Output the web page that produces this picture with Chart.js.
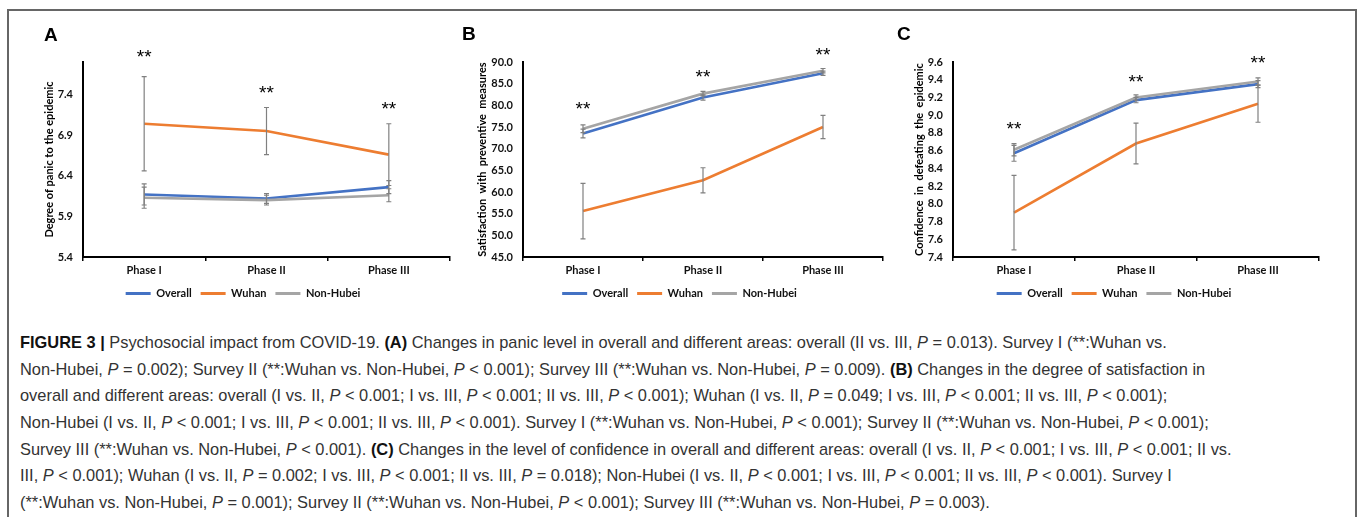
<!DOCTYPE html>
<html>
<head>
<meta charset="utf-8">
<script src="https://cdn.jsdelivr.net/npm/chart.js@4"></script>
<style>
  body { margin: 0; background: #fff; width: 1357px; height: 517px; overflow: hidden; position: relative; }
  .frame { position: absolute; left: 7px; top: 9px; width: 1346px; height: 600px; border: 2px solid #666; }
  canvas { position: absolute; top: 0; }
  .panel { position: absolute; font-family: "Liberation Sans", Arial, sans-serif; font-weight: bold; font-size: 19px; line-height: 19px; color: #000; }
  .caption { position: absolute; left: 20px; top: 329px; font-family: "Liberation Sans Narrow", "Liberation Sans", sans-serif; font-size: 16.4px; line-height: 26.67px; color: #333; }
  .caption div { white-space: nowrap; }
  .caption b { color: #111; }
</style>
</head>
<body>
<div class="frame"></div>
<canvas id="chartA" width="440" height="310" style="left:20px"></canvas>
<canvas id="chartB" width="433" height="310" style="left:460px"></canvas>
<canvas id="chartC" width="436" height="310" style="left:893px"></canvas>
<div class="panel" style="left:44px;top:25px">A</div>
<div class="panel" style="left:462px;top:24px">B</div>
<div class="panel" style="left:897px;top:24px">C</div>

<div class="caption">
  <div><b>FIGURE 3 |</b> Psychosocial impact from COVID-19. <b>(A)</b> Changes in panic level in overall and different areas: overall (II vs. III, <i>P</i> = 0.013). Survey I (**:Wuhan vs.</div>
  <div>Non-Hubei, <i>P</i> = 0.002); Survey II (**:Wuhan vs. Non-Hubei, <i>P</i> &lt; 0.001); Survey III (**:Wuhan vs. Non-Hubei, <i>P</i> = 0.009). <b>(B)</b> Changes in the degree of satisfaction in</div>
  <div>overall and different areas: overall (I vs. II, <i>P</i> &lt; 0.001; I vs. III, <i>P</i> &lt; 0.001; II vs. III, <i>P</i> &lt; 0.001); Wuhan (I vs. II, <i>P</i> = 0.049; I vs. III, <i>P</i> &lt; 0.001; II vs. III, <i>P</i> &lt; 0.001);</div>
  <div>Non-Hubei (I vs. II, <i>P</i> &lt; 0.001; I vs. III, <i>P</i> &lt; 0.001; II vs. III, <i>P</i> &lt; 0.001). Survey I (**:Wuhan vs. Non-Hubei, <i>P</i> &lt; 0.001); Survey II (**:Wuhan vs. Non-Hubei, <i>P</i> &lt; 0.001);</div>
  <div>Survey III (**:Wuhan vs. Non-Hubei, <i>P</i> &lt; 0.001). <b>(C)</b> Changes in the level of confidence in overall and different areas: overall (I vs. II, <i>P</i> &lt; 0.001; I vs. III, <i>P</i> &lt; 0.001; II vs.</div>
  <div>III, <i>P</i> &lt; 0.001); Wuhan (I vs. II, <i>P</i> = 0.002; I vs. III, <i>P</i> &lt; 0.001; II vs. III, <i>P</i> = 0.018); Non-Hubei (I vs. II, <i>P</i> &lt; 0.001; I vs. III, <i>P</i> &lt; 0.001; II vs. III, <i>P</i> &lt; 0.001). Survey I</div>
  <div>(**:Wuhan vs. Non-Hubei, <i>P</i> = 0.001); Survey II (**:Wuhan vs. Non-Hubei, <i>P</i> &lt; 0.001); Survey III (**:Wuhan vs. Non-Hubei, <i>P</i> = 0.003).</div>
</div>

<script>
  const phases = ['Phase I', 'Phase II', 'Phase III'];
  const seriesNames = ['Overall', 'Wuhan', 'Non-Hubei'];
  const seriesColors = ['#4472C4', '#ED7D31', '#A5A5A5'];

  // A: panic
  const panicOverall = [6.17, 6.12, 6.26];
  const panicWuhan = [7.04, 6.95, 6.66];
  const panicNonHubei = [6.13, 6.10, 6.16];
  const panicOverallErr = [0.13, 0.06, 0.08];
  const panicWuhanErr = [0.58, 0.29, 0.38];
  const panicNonHubeiErr = [0.13, 0.06, 0.08];
  const panicTicks = [5.4, 5.9, 6.4, 6.9, 7.4];
  const panicStars = [7.90, 7.46, 7.26];

  // B: satisfaction
  const satOverall = [73.5, 81.8, 87.4];
  const satWuhan = [55.6, 62.7, 75.0];
  const satNonHubei = [74.6, 82.7, 88.0];
  const satOverallErr = [1.0, 0.6, 0.5];
  const satWuhanErr = [6.4, 2.9, 2.7];
  const satNonHubeiErr = [0.9, 0.5, 0.5];
  const satTicks = [45, 50, 55, 60, 65, 70, 75, 80, 85, 90];
  const satStars = [79.8, 87.2, 92.4];

  // C: confidence
  const confOverall = [8.57, 9.17, 9.35];
  const confWuhan = [7.90, 8.68, 9.13];
  const confNonHubei = [8.61, 9.20, 9.38];
  const confOverallErr = [0.09, 0.03, 0.04];
  const confWuhanErr = [0.42, 0.23, 0.21];
  const confNonHubeiErr = [0.07, 0.03, 0.04];
  const confTicks = [7.4, 7.6, 7.8, 8.0, 8.2, 8.4, 8.6, 8.8, 9.0, 9.2, 9.4, 9.6];
  const confStars = [8.88, 9.41, 9.62];

  Chart.defaults.font.family = 'Lato, "Open Sans", sans-serif';
  Chart.defaults.font.weight = 'bold';
  Chart.defaults.font.size = 11;
  Chart.defaults.color = '#111';

  // vertical error bars with caps, taken from dataset.errors
  const errorBars = {
    id: 'errorBars',
    afterDatasetsDraw(chart) {
      const ctx = chart.ctx;
      const y = chart.scales.y;
      ctx.save();
      ctx.strokeStyle = '#808080';
      ctx.lineWidth = 1.2;
      chart.data.datasets.forEach((ds, i) => {
        const meta = chart.getDatasetMeta(i);
        meta.data.forEach((pt, j) => {
          const e = ds.errors[j];
          const top = y.getPixelForValue(ds.data[j] + e);
          const bot = y.getPixelForValue(ds.data[j] - e);
          ctx.beginPath();
          ctx.moveTo(pt.x, top); ctx.lineTo(pt.x, bot);
          ctx.moveTo(pt.x - 2.5, top); ctx.lineTo(pt.x + 2.5, top);
          ctx.moveTo(pt.x - 2.5, bot); ctx.lineTo(pt.x + 2.5, bot);
          ctx.stroke();
        });
      });
      ctx.restore();
    }
  };

  // "**" significance marks above each phase
  const stars = {
    id: 'stars',
    afterDraw(chart, args, opts) {
      const ctx = chart.ctx;
      ctx.save();
      ctx.font = '19px "Liberation Sans", Arial, sans-serif';
      ctx.fillStyle = '#000';
      ctx.textAlign = 'center';
      ctx.textBaseline = 'middle';
      opts.values.forEach((v, i) => {
        const x = chart.scales.x.getPixelForValue(i);
        const yy = chart.scales.y.getPixelForValue(v);
        ctx.fillText('**', x, yy + 4);
      });
      ctx.restore();
    }
  };

  function makePanel(id, cfg) {
    const series = [cfg.overall, cfg.wuhan, cfg.nonHubei];
    const errs = [cfg.overallErr, cfg.wuhanErr, cfg.nonHubeiErr];
    new Chart(document.getElementById(id), {
      type: 'line',
      data: {
        labels: phases,
        datasets: series.map((d, i) => ({
          label: seriesNames[i],
          data: d,
          errors: errs[i],
          borderColor: seriesColors[i],
          backgroundColor: seriesColors[i],
          borderWidth: 2.6,
          pointRadius: 0,
          tension: 0,
          order: 3 - i
        }))
      },
      options: {
        responsive: false,
        animation: false,
        // left padding pushes the legend centre right; the y axis width is reduced to match
        layout: { padding: { top: 62, right: 10, bottom: 1, left: 16 } },
        scales: {
          x: {
            offset: true,
            grid: { offset: true, drawOnChartArea: false, drawTicks: true, tickLength: 4, color: '#000', lineWidth: 1.5 },
            border: { color: '#000', width: 2 },
            ticks: { padding: 3, color: '#111' },
            afterFit: s => { s.height = 22; }
          },
          y: {
            min: cfg.min,
            max: cfg.max,
            grid: { drawOnChartArea: false, drawTicks: false },
            border: { color: '#000', width: 2 },
            ticks: { padding: cfg.tickPad, autoSkip: false, callback: v => v.toFixed(1), color: '#111' },
            afterBuildTicks: s => { s.ticks = cfg.ticks.map(v => ({ value: v })); },
            afterFit: s => { s.width = cfg.axisWidth - 16; },
            title: { display: true, text: cfg.title, font: { size: 11, weight: 'bold' }, color: '#000', padding: { top: cfg.titlePad - 16, bottom: 0 } }
          }
        },
        plugins: {
          tooltip: { enabled: false },
          legend: {
            position: 'bottom',
            labels: {
              boxWidth: 25,
              boxHeight: 3,
              padding: 9,
              color: '#111',
              sort: (a, b) => a.datasetIndex - b.datasetIndex,
              generateLabels: chart => Chart.defaults.plugins.legend.labels.generateLabels(chart).map(l => ({ ...l, lineWidth: 0 }))
            }
          },
          stars: { values: cfg.stars }
        }
      },
      plugins: [errorBars, stars]
    });
  }

  makePanel('chartA', {
    overall: panicOverall, wuhan: panicWuhan, nonHubei: panicNonHubei,
    overallErr: panicOverallErr, wuhanErr: panicWuhanErr, nonHubeiErr: panicNonHubeiErr,
    min: 5.4, max: 7.8, ticks: panicTicks, stars: panicStars,
    title: 'Degree of panic to the epidemic', axisWidth: 63, tickPad: 10, titlePad: 23
  });
  makePanel('chartB', {
    overall: satOverall, wuhan: satWuhan, nonHubei: satNonHubei,
    overallErr: satOverallErr, wuhanErr: satWuhanErr, nonHubeiErr: satNonHubeiErr,
    min: 45, max: 90, ticks: satTicks, stars: satStars,
    title: 'Satisfaction  with  preventive  measures', axisWidth: 63, tickPad: 10, titlePad: 16
  });
  makePanel('chartC', {
    overall: confOverall, wuhan: confWuhan, nonHubei: confNonHubei,
    overallErr: confOverallErr, wuhanErr: confWuhanErr, nonHubeiErr: confNonHubeiErr,
    min: 7.4, max: 9.6, ticks: confTicks, stars: confStars,
    title: 'Confidence  in  defeating  the  epidemic', axisWidth: 60, tickPad: 10, titlePad: 20
  });
</script>
</body>
</html>
